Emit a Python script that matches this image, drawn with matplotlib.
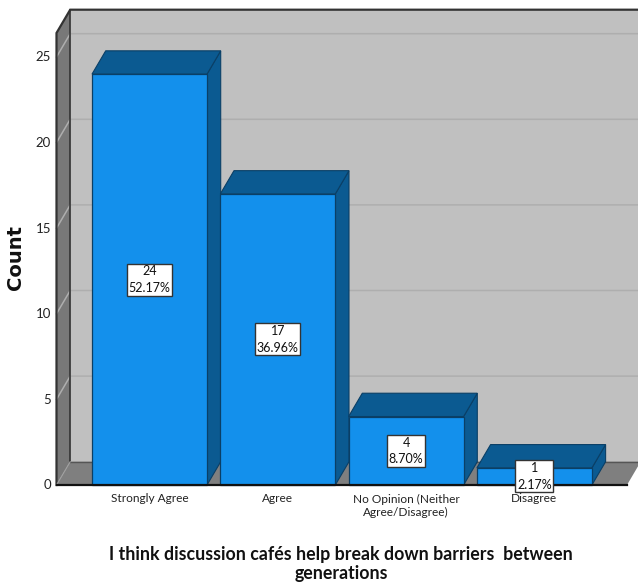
import matplotlib
matplotlib.use("Agg")
import matplotlib.pyplot as plt
from matplotlib.patches import Polygon

categories = ["Strongly Agree", "Agree", "No Opinion (Neither\nAgree/Disagree)", "Disagree"]
counts = [24, 17, 4, 1]
percents = ["52.17%", "36.96%", "8.70%", "2.17%"]
y_ticks = [0, 5, 10, 15, 20, 25]
x_title = "I think discussion cafés help break down barriers  between\ngenerations"
y_title = "Count"

narrow = "Lato"

W, H = 638, 585
fig = plt.figure(figsize=(W / 100, H / 100), dpi=100, facecolor="white")
L, R, T, B = 56.5, 627, 33, 485
ax = fig.add_axes([L / W, 1 - B / H, (R - L) / W, (B - T) / H])
ppu = 17.12            # pixels per count
ppc = 128.3            # pixels per category
ax.set_xlim((L - 149.5) / ppc, (R - 149.5) / ppc)
ax.set_ylim(0, (B - T) / ppu)
ax.axis("off")

DX, DY = 13.7 / ppc, 23.3 / ppu     # oblique depth offset in data units
HALF = 57.5 / ppc                   # half bar width
x0, x1 = ax.get_xlim()
ytop = ax.get_ylim()[1]
XR = x1 + 0.2


def face(points, fc, ec="none", lw=0.0, z=1):
    ax.add_patch(Polygon(points, closed=True, facecolor=fc, edgecolor=ec,
                         linewidth=lw, zorder=z, clip_on=False, joinstyle="miter"))


# chart box: back wall, left wall, floor
face([(x0 + DX, DY), (XR, DY), (XR, ytop + DY), (x0 + DX, ytop + DY)], "#c0c0c0", z=1)
face([(x0, 0), (x0 + DX, DY), (x0 + DX, ytop + DY), (x0, ytop)], "#787878", z=1)
face([(x0, 0), (x1, 0), (x1 + DX, DY), (x0 + DX, DY)], "#7f7f7f", z=1)

# gridlines run across the left wall and along the back wall
for t in y_ticks[1:]:
    ax.plot([x0, x0 + DX, XR], [t, t + DY, t + DY], color="#aeaeae", lw=1.1, zorder=2,
            clip_on=False)

# box edges
ax.plot([x0, x0, x0 + DX, XR], [0, ytop, ytop + DY, ytop + DY], color="#333333", lw=1.6,
        zorder=3, clip_on=False, solid_joinstyle="miter")
ax.plot([x0 + DX, x0 + DX], [DY, ytop + DY], color="#333333", lw=1.2, zorder=3, clip_on=False)
ax.plot([x0 + DX, XR], [DY, DY], color="#555555", lw=1.0, zorder=3, clip_on=False)
ax.plot([x0, x0 + DX], [0, DY], color="#a0a0a0", lw=0.8, zorder=3, clip_on=False)
ax.plot([x0, x1], [0, 0], color="#111111", lw=1.6, zorder=8, clip_on=False)

# bars with side and top faces
for i, v in enumerate(counts):
    a, b = i - HALF, i + HALF
    z = 4 + i * 0.1
    edge = "#0a3f66"
    face([(b, 0), (b + DX, DY), (b + DX, v + DY), (b, v)], "#0b5a91", edge, 0.8, z)
    face([(a, v), (b, v), (b + DX, v + DY), (a + DX, v + DY)], "#0b5a91", edge, 0.8, z)
    face([(a, 0), (b, 0), (b, v), (a, v)], "#1390ec", edge, 0.9, z)

# axis tick labels
for t in y_ticks:
    ax.text(x0 - 5.5 / ppc, t - 0.02, str(t), ha="right", va="center", fontsize=9.5,
            family=narrow, color="#222222", zorder=9, clip_on=False)
for i, c in enumerate(categories):
    ax.text(i, -8.5 / ppu, c, ha="center", va="top", fontsize=8.6, family=narrow,
            color="#222222", linespacing=1.22, zorder=6, clip_on=False)

# value labels in white boxes
for i, (v, p) in enumerate(zip(counts, percents)):
    ax.text(i, v / 2, f"{v}\n{p}", ha="center", va="center", fontsize=9, family=narrow,
            color="#111111", linespacing=1.45, zorder=10, clip_on=False,
            bbox=dict(boxstyle="square,pad=0.14", facecolor="white", edgecolor="#333333",
                      linewidth=1.0))

# axis titles
fig.text(341 / W, 1 - 564 / H, x_title, ha="center", va="center", fontsize=12.8,
         family=narrow, fontweight="bold", color="#111111", linespacing=1.08)
fig.text(15 / W, 1 - 258 / H, y_title, ha="center", va="center", rotation=90, fontsize=14,
         family="DejaVu Sans", fontweight="bold", color="#111111")

fig.savefig("out.png", dpi=100, facecolor="white")
